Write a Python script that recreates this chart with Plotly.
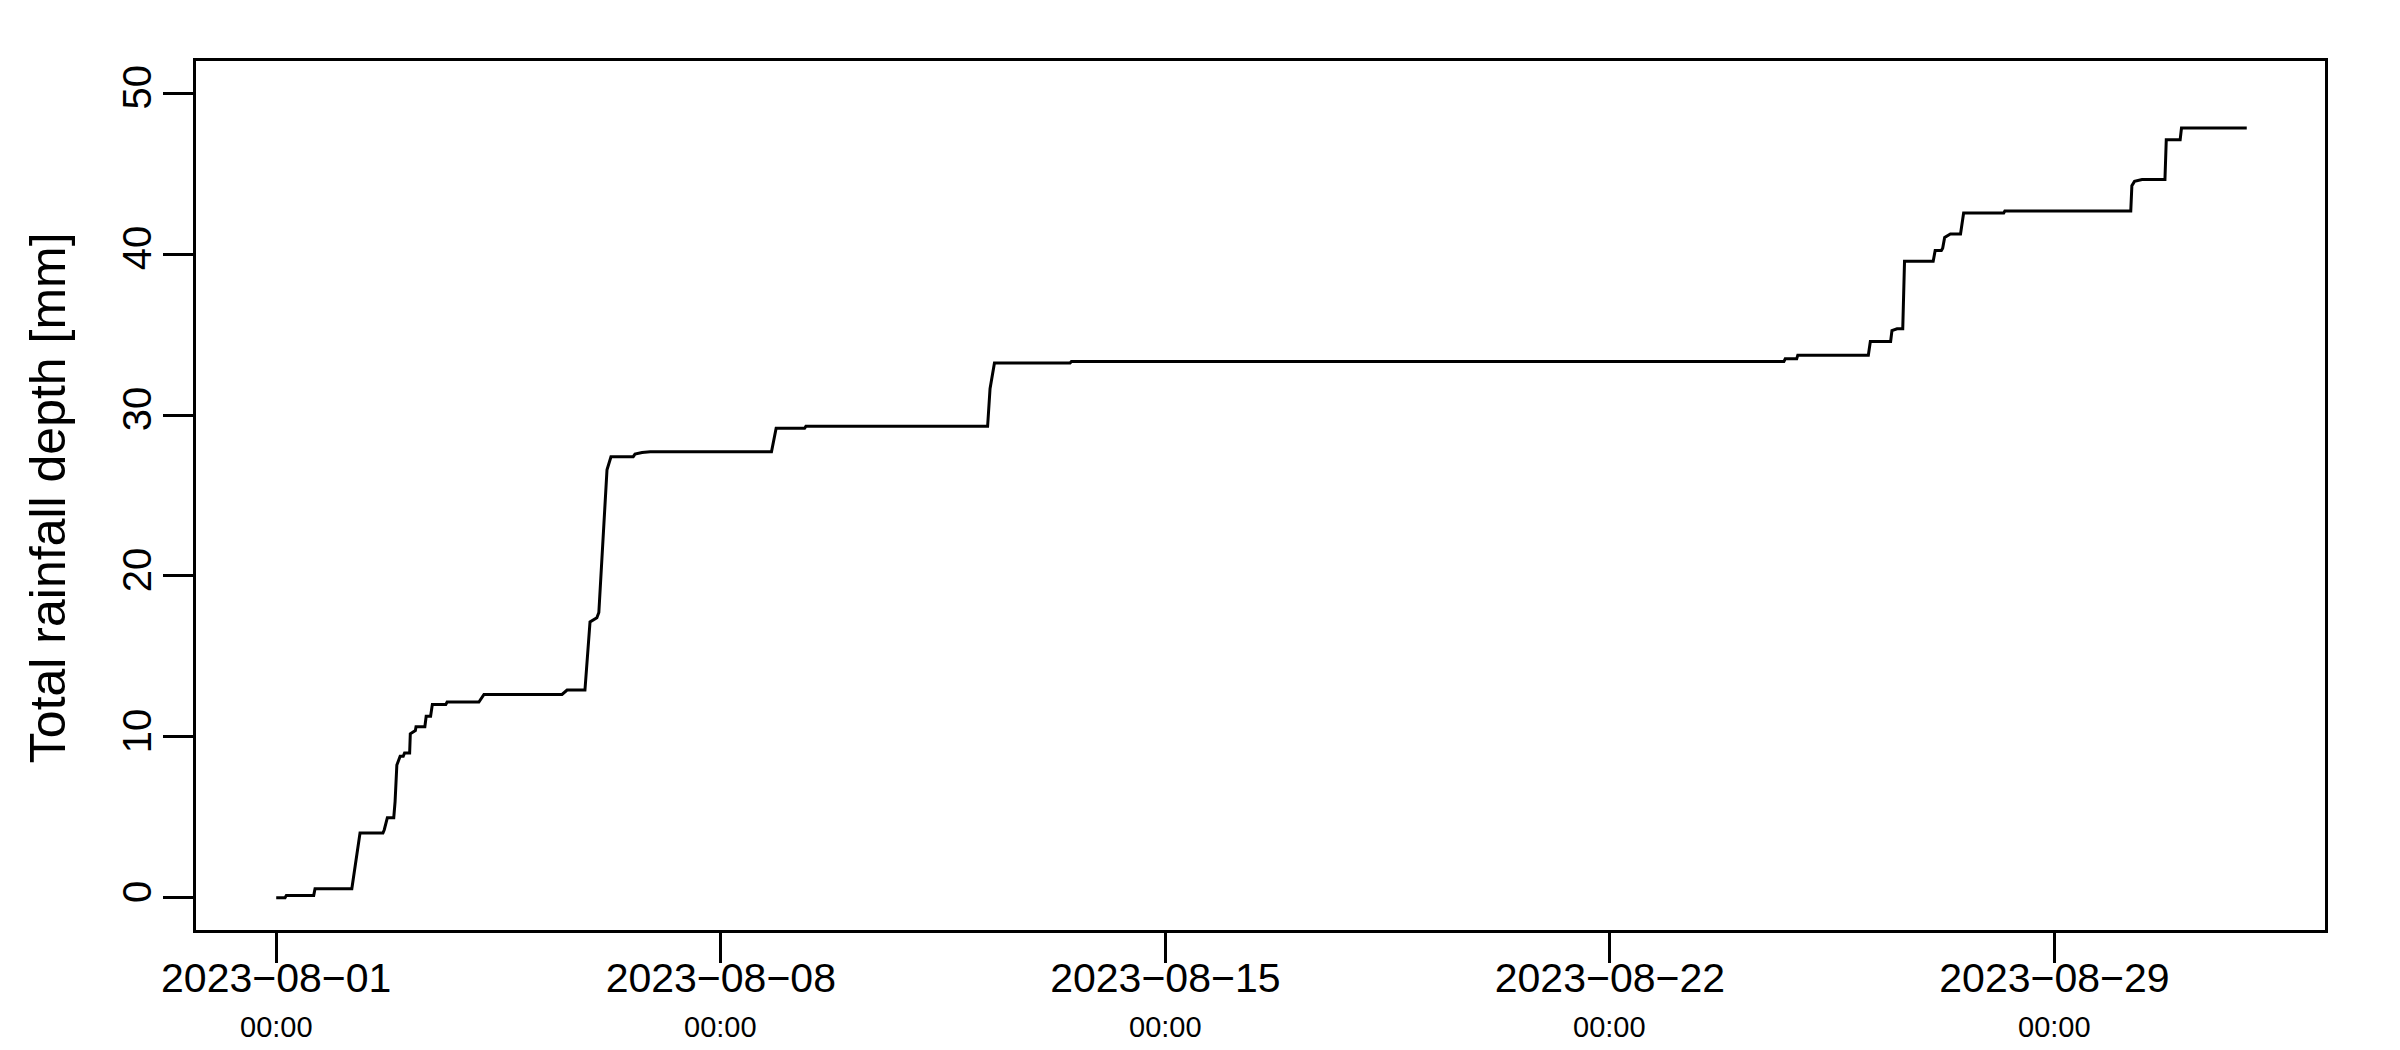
import plotly.graph_objects as go

# ---- data ----
times = [
    "2023-08-01 00:00", "2023-08-01 03:20", "2023-08-01 03:50", "2023-08-01 14:10",
    "2023-08-01 14:40", "2023-08-02 04:34", "2023-08-02 07:40", "2023-08-02 16:20",
    "2023-08-02 16:50", "2023-08-02 18:00", "2023-08-02 20:25", "2023-08-02 20:55",
    "2023-08-02 21:35", "2023-08-02 22:50", "2023-08-03 00:00", "2023-08-03 00:30",
    "2023-08-03 02:25", "2023-08-03 02:40", "2023-08-03 04:35", "2023-08-03 04:50",
    "2023-08-03 08:10", "2023-08-03 08:40", "2023-08-03 10:20", "2023-08-03 11:00",
    "2023-08-03 16:05", "2023-08-03 16:35", "2023-08-04 04:35", "2023-08-04 06:30",
    "2023-08-05 12:00", "2023-08-05 13:55", "2023-08-05 20:40", "2023-08-05 21:20",
    "2023-08-05 22:35", "2023-08-06 01:10", "2023-08-06 01:55", "2023-08-06 05:00",
    "2023-08-06 06:30", "2023-08-06 14:55", "2023-08-06 15:35", "2023-08-06 18:15",
    "2023-08-06 21:20", "2023-08-08 19:10", "2023-08-08 20:55", "2023-08-09 07:40",
    "2023-08-09 08:10", "2023-08-12 04:50", "2023-08-12 05:45", "2023-08-12 07:25",
    "2023-08-13 12:00", "2023-08-13 12:30", "2023-08-24 17:45", "2023-08-24 18:15",
    "2023-08-24 22:35", "2023-08-24 23:00", "2023-08-26 01:40", "2023-08-26 02:25",
    "2023-08-26 10:05", "2023-08-26 10:35", "2023-08-26 12:30", "2023-08-26 14:40",
    "2023-08-26 15:20", "2023-08-27 02:10", "2023-08-27 02:55", "2023-08-27 05:15",
    "2023-08-27 05:45", "2023-08-27 06:30", "2023-08-27 08:40", "2023-08-27 12:30",
    "2023-08-27 13:40", "2023-08-28 04:50", "2023-08-28 05:15", "2023-08-30 04:50",
    "2023-08-30 05:15", "2023-08-30 06:15", "2023-08-30 09:05", "2023-08-30 17:45",
    "2023-08-30 18:15", "2023-08-30 23:30", "2023-08-31 00:00", "2023-09-01 00:40",
]

depth_mm = [
    0.00, 0.00, 0.15, 0.15,
    0.56, 0.56, 4.03, 4.03,
    4.23, 4.98, 4.98, 5.98,
    8.25, 8.80, 8.80, 9.00,
    9.00, 10.19, 10.39, 10.63,
    10.63, 11.28, 11.28, 12.02,
    12.02, 12.17, 12.17, 12.64,
    12.64, 12.91, 12.91, 14.26,
    17.14, 17.40, 17.73, 26.60,
    27.41, 27.41, 27.57, 27.67,
    27.72, 27.72, 29.18, 29.18,
    29.30, 29.30, 31.64, 33.23,
    33.23, 33.32, 33.32, 33.49,
    33.49, 33.72, 33.72, 34.57,
    34.57, 35.25, 35.36, 35.36,
    39.56, 39.56, 40.22, 40.22,
    40.36, 41.04, 41.25, 41.25,
    42.56, 42.56, 42.68, 42.68,
    44.25, 44.52, 44.63, 44.63,
    47.11, 47.11, 47.83, 47.83,
]

tick_dates = ["2023-08-01", "2023-08-08", "2023-08-15", "2023-08-22", "2023-08-29"]
tick_date_labels = ["2023\u221208\u221201", "2023\u221208\u221208", "2023\u221208\u221215",
                    "2023\u221208\u221222", "2023\u221208\u221229"]
tick_time_labels = ["00:00", "00:00", "00:00", "00:00", "00:00"]
y_ticks = [0, 10, 20, 30, 40, 50]
y_title = "Total rainfall depth [mm]"

FONT = "Liberation Sans, Arial, Helvetica, sans-serif"

fig = go.Figure()
fig.add_trace(go.Scatter(
    x=times, y=depth_mm, mode="lines",
    line=dict(color="black", width=3),
    showlegend=False, hoverinfo="x+y",
))

for d, t in zip(tick_dates, tick_time_labels):
    fig.add_annotation(
        x=d, xref="x", y=-0.112, yref="paper",
        text=t, showarrow=False, xanchor="center", yanchor="middle",
        font=dict(family=FONT, size=29, color="black"),
    )

fig.add_annotation(
    x=-0.0695, xref="paper", y=0.497, yref="paper",
    text=y_title, textangle=-90, showarrow=False,
    xanchor="center", yanchor="middle",
    font=dict(family=FONT, size=50, color="black"),
)

fig.update_layout(
    width=2392, height=1042, autosize=False,
    margin=dict(l=188, r=75, t=53, b=120),
    paper_bgcolor="white", plot_bgcolor="white",
    font=dict(family=FONT, color="black"),
    xaxis=dict(
        type="date",
        range=["2023-07-30 17:41", "2023-09-02 06:14"],
        tickvals=tick_dates, ticktext=tick_date_labels,
        tickfont=dict(family=FONT, size=41, color="black"),
        ticks="outside", ticklen=30, tickwidth=3, tickcolor="black",
        ticklabelstandoff=-20,
        showline=True, linecolor="black", linewidth=3, mirror=True,
        showgrid=False, zeroline=False,
    ),
    yaxis=dict(
        range=[-2, 52],
        tickvals=y_ticks, ticktext=[str(v) for v in y_ticks],
        tickangle=-90,
        tickfont=dict(family=FONT, size=40, color="black"),
        ticks="outside", ticklen=30, tickwidth=3, tickcolor="black",
        ticklabelstandoff=-4,
        showline=True, linecolor="black", linewidth=3, mirror=True,
        showgrid=False, zeroline=False,
    ),
)

fig.write_html("out.html")
